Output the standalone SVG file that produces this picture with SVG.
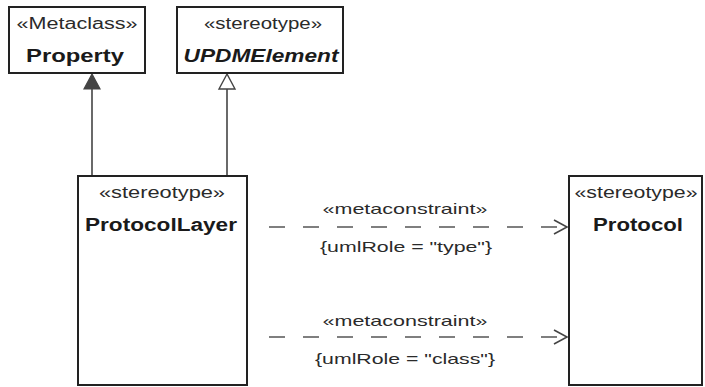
<svg xmlns="http://www.w3.org/2000/svg" width="705" height="387" viewBox="0 0 705 387">
<style>
.box{fill:#fff;stroke:#222;stroke-width:2}
.st{font-family:"Liberation Sans",Arial,sans-serif;font-size:16px;fill:#2a2a2a;text-anchor:middle}
.nm{font-family:"Liberation Sans",Arial,sans-serif;font-size:18px;font-weight:bold;fill:#1a1a1a;text-anchor:middle}
.lbl{font-family:"Liberation Sans",Arial,sans-serif;font-size:15px;fill:#2a2a2a;text-anchor:middle}
.ln{stroke:#444;stroke-width:1.6;fill:none}
.dash{stroke:#555;stroke-width:1.5;fill:none;stroke-dasharray:16 18}
</style>
<rect width="705" height="387" fill="#fff"/>
<g id="connectors">
  <line class="ln" x1="92" y1="89" x2="92" y2="176"/>
  <polygon points="92,74 84,89 100,89" fill="#444" stroke="#444" stroke-width="1.2"/>
  <line class="ln" x1="227" y1="89" x2="227" y2="176"/>
  <polygon points="227,74 219,89 235,89" fill="#fff" stroke="#444" stroke-width="1.4"/>
  <line class="dash" x1="269" y1="227" x2="567" y2="227"/>
  <polyline class="ln" points="554,220 567,227 554,234"/>
  <text class="lbl" x="405" y="214" textLength="165" lengthAdjust="spacingAndGlyphs">«metaconstraint»</text>
  <text class="lbl" x="406" y="252" textLength="172" lengthAdjust="spacingAndGlyphs">{umlRole = "type"}</text>
  <line class="dash" x1="269" y1="337" x2="567" y2="337"/>
  <polyline class="ln" points="554,330 567,337 554,344"/>
  <text class="lbl" x="405" y="326" textLength="165" lengthAdjust="spacingAndGlyphs">«metaconstraint»</text>
  <text class="lbl" x="405" y="364" textLength="180" lengthAdjust="spacingAndGlyphs">{umlRole = "class"}</text>
</g>
<g id="Property">
  <rect class="box" x="9" y="7" width="136" height="66"/>
  <text class="st" x="77" y="29" textLength="121" lengthAdjust="spacingAndGlyphs">«Metaclass»</text>
  <text class="nm" x="75" y="62" textLength="98" lengthAdjust="spacingAndGlyphs">Property</text>
</g>
<g id="UPDMElement">
  <rect class="box" x="177" y="7" width="166" height="66"/>
  <text class="st" x="263" y="29" textLength="118" lengthAdjust="spacingAndGlyphs">«stereotype»</text>
  <text class="nm" x="261" y="62" font-style="italic" textLength="155" lengthAdjust="spacingAndGlyphs">UPDMElement</text>
</g>
<g id="ProtocolLayer">
  <rect class="box" x="78" y="176" width="169" height="209"/>
  <text class="st" x="162" y="198" textLength="126" lengthAdjust="spacingAndGlyphs">«stereotype»</text>
  <text class="nm" x="161" y="231" textLength="152" lengthAdjust="spacingAndGlyphs">ProtocolLayer</text>
</g>
<g id="Protocol">
  <rect class="box" x="569" y="176" width="133" height="209"/>
  <text class="st" x="636" y="198" textLength="123" lengthAdjust="spacingAndGlyphs">«stereotype»</text>
  <text class="nm" x="638" y="231" textLength="90" lengthAdjust="spacingAndGlyphs">Protocol</text>
</g>
</svg>
